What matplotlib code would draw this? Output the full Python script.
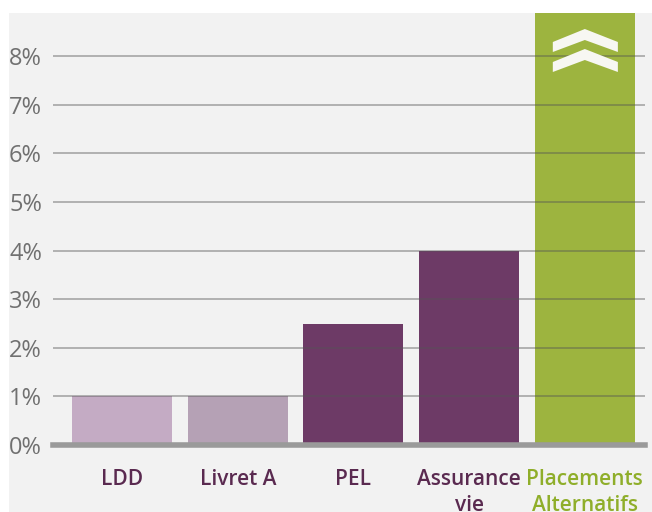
import matplotlib
matplotlib.use("Agg")
import matplotlib.pyplot as plt
from matplotlib.patches import Rectangle, Polygon

categories = ["LDD", "Livret A", "PEL", "Assurance\nvie", "Placements\nAlternatifs"]
values = [1.0, 1.0, 2.5, 4.0, 10.0]
bar_colors = ["#c4abc4", "#b5a1b5", "#6d3a66", "#6d3a66", "#9db43f"]
label_colors = ["#5a2a50", "#5a2a50", "#5a2a50", "#5a2a50", "#8fae2a"]
yticks = [0, 1, 2, 3, 4, 5, 6, 7, 8]
ytick_labels = ["0%", "1%", "2%", "3%", "4%", "5%", "6%", "7%", "8%"]

W, H = 652, 512
PX_X, PX_Y = 115.6, 48.6  # pixels per category / per percent
fig = plt.figure(figsize=(W / 100, H / 100), dpi=100)
fig.patch.set_facecolor("white")
bg = Rectangle((9 / W, 0), 1, (H - 13) / H, transform=fig.transFigure,
               facecolor="#f2f2f2", edgecolor="none", zorder=-10)
fig.add_artist(bg)

ax = fig.add_axes([53 / W, (H - 445) / H, (645 - 53) / W, (445 - 13) / H])
ax.set_zorder(1)
ax.set_facecolor("none")
x = list(range(len(categories)))
ax.bar(x, values, width=0.865, color=bar_colors, zorder=2)

ax.set_xlim(-0.597, 4.52)
ax.set_ylim(0, (445 - 13) / PX_Y)

for v in yticks[1:]:
    ax.axhline(v, color="#555555", alpha=0.45, lw=1.3, zorder=3)
ax.axhline(0, color="#9a9a9a", lw=4, zorder=4, clip_on=False)

ax.set_yticks(yticks)
ax.set_yticklabels(ytick_labels, fontsize=17, color="#707070", family="Open Sans")
ax.tick_params(axis="y", length=0, pad=8)

ax.set_xticks(x)
ax.set_xticklabels(categories, fontsize=15, family="Open Sans", fontweight="semibold",
                   linespacing=1.32)
for lbl, c in zip(ax.get_xticklabels(), label_colors):
    lbl.set_color(c)
    lbl.set_verticalalignment("top")
ax.tick_params(axis="x", length=0, pad=17)

for s in ax.spines.values():
    s.set_visible(False)

# double chevron icon on last bar (shape in pixel offsets from bar centre / 0% line)
cx = x[-1]
shape = [(-32, 403), (0, 416), (33, 403), (33, 393), (0, 405), (-32, 393)]
for shift in (0, -20):
    pts = [(cx + dx / PX_X, (dy + shift) / PX_Y) for dx, dy in shape]
    ax.add_patch(Polygon(pts, closed=True, facecolor="#f7f7f2", edgecolor="none", zorder=5))

fig.savefig("out.png", dpi=100)
